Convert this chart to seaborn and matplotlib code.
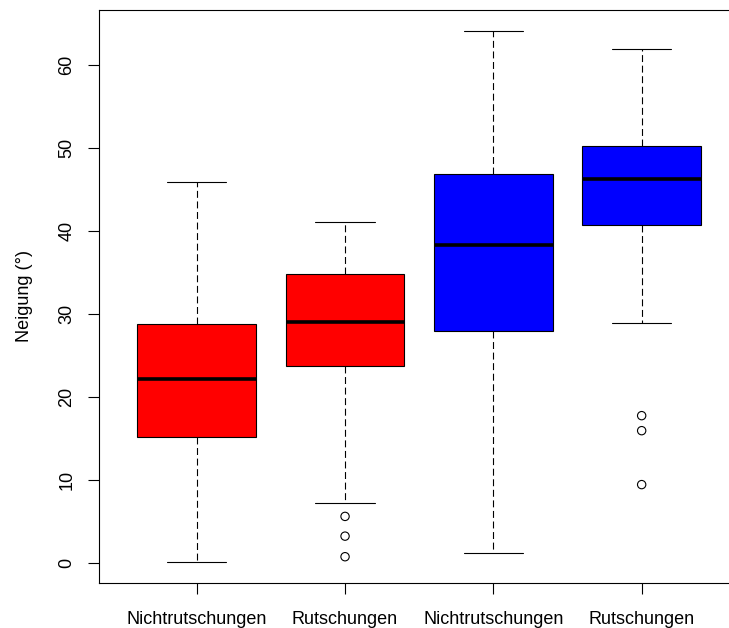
import numpy as np
import pandas as pd
import seaborn as sns
import matplotlib.pyplot as plt

# groups (four boxes, two of them share a label)
groups = ["g1", "g2", "g3", "g4"]
labels = ["Nichtrutschungen", "Rutschungen", "Nichtrutschungen", "Rutschungen"]
colors = ["#ff0000", "#ff0000", "#0000ff", "#0000ff"]

# five-number summaries
low = [0.13, 7.23, 1.19, 28.9]
q1 = [15.22, 23.72, 27.92, 40.69]
med = [22.2, 28.98, 38.36, 46.32]
q3 = [28.74, 34.84, 46.92, 50.18]
high = [45.86, 41.13, 64.07, 61.88]

# outliers
out_group = ["g2", "g2", "g2", "g4", "g4", "g4"]
out_value = [5.6, 3.22, 0.74, 17.74, 15.93, 9.43]

rows = []
for i, g in enumerate(groups):
    for v in (low[i], q1[i], med[i], q3[i], high[i]):
        rows.append({"group": g, "value": v})
df = pd.DataFrame(rows)
df_out = pd.DataFrame({"group": out_group, "value": out_value})

sns.set_style("ticks")
plt.rcParams["font.family"] = ["Liberation Sans", "DejaVu Sans"]
plt.rcParams["lines.scale_dashes"] = False
plt.rcParams["text.color"] = "black"
plt.rcParams["axes.labelcolor"] = "black"
plt.rcParams["xtick.color"] = "black"
plt.rcParams["ytick.color"] = "black"

fig = plt.figure(figsize=(7.29, 6.28), dpi=100)
ax = fig.add_axes([99 / 729, 1 - 583 / 628, (739.4 - 99) / 729, (583 - 10) / 628])

sns.boxplot(data=df, x="group", y="value", hue="group", order=groups,
            palette=dict(zip(groups, colors)), saturation=1, whis=(0, 100), width=0.8,
            linecolor="black", linewidth=0.8, showfliers=False, legend=False,
            whiskerprops={"linestyle": (0, (5, 2.6))},
            medianprops={"linewidth": 2.6},
            ax=ax)

n_before = len(ax.collections)
sns.stripplot(data=df_out, x="group", y="value", order=groups, jitter=False,
              color="black", edgecolor="black", size=6, linewidth=0.8, ax=ax)
for coll in ax.collections[n_before:]:
    coll.set_facecolor("none")
    coll.set_edgecolor("black")

allv = low + high + out_value
lo, hi = min(allv), max(allv)
pad = 0.04 * (hi - lo)
ax.set_ylim(lo - pad, hi + pad)
ax.set_xlim(-0.659, 3.659)
ax.set_yticks([0, 10, 20, 30, 40, 50, 60])
ax.set_xticks(range(4))
ax.set_xticklabels(labels)
ax.set_xlabel("")
ax.set_ylabel("Neigung (°)", fontsize=13)
ax.yaxis.set_label_coords(-0.103, 0.5)

ax.tick_params(axis="both", labelsize=13, length=8, width=0.8, color="black")
ax.tick_params(axis="x", pad=12)
ax.tick_params(axis="y", pad=9, labelrotation=90)
for lab in ax.get_yticklabels():
    lab.set_va("center")
for s in ax.spines.values():
    s.set_linewidth(0.8)
    s.set_color("black")
ax.spines["right"].set_visible(False)

fig.savefig("out.png", dpi=100)
